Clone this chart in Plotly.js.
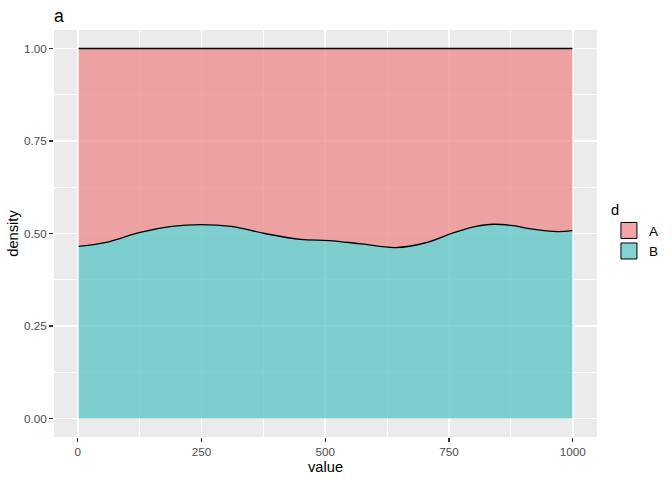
<!DOCTYPE html>
<html>
<head>
<meta charset="utf-8">
<script src="https://cdn.plot.ly/plotly-3.0.1.min.js"></script>
<style>body{margin:0;padding:0;background:#fff}#chart{width:672px;height:480px}</style>
</head>
<body>
<div id="chart"></div>
<script>
// data (position = "fill" densities)
const xs      = [2, 60, 126, 190, 248, 310, 378, 450, 508, 573, 642, 703, 761, 800, 840, 880, 912, 970, 999];
const propB   = [0.465, 0.477, 0.503, 0.519, 0.524, 0.519, 0.500, 0.484, 0.481, 0.472, 0.462, 0.475, 0.503, 0.518, 0.525, 0.521, 0.513, 0.505, 0.508];
const topFill = [1, 1, 1, 1, 1, 1, 1, 1, 1, 1, 1, 1, 1, 1, 1, 1, 1, 1, 1];
const groups  = ["A", "B"];
const xTicks  = [0, 250, 500, 750, 1000];
const yTicks  = [0, 0.25, 0.5, 0.75, 1];
const yTickText = ["0.00", "0.25", "0.50", "0.75", "1.00"];

const fillA = "rgba(238,143,141,0.8)";
const fillB = "rgba(99,198,200,0.8)";

const traces = [
  {x: xs, y: propB, type: "scatter", mode: "lines", fill: "tozeroy",
   fillcolor: fillB, line: {color: "#000", width: 1.3, shape: "spline"},
   showlegend: false, hoverinfo: "skip"},
  {x: xs, y: topFill, type: "scatter", mode: "lines", fill: "tonexty",
   fillcolor: fillA, line: {color: "#000", width: 1.3, shape: "spline"},
   showlegend: false, hoverinfo: "skip"},
  {x: [null], y: [null], type: "scatter", mode: "markers", name: groups[0],
   marker: {symbol: "square", size: 20, color: fillA, line: {color: "#000", width: 1}}},
  {x: [null], y: [null], type: "scatter", mode: "markers", name: groups[1],
   marker: {symbol: "square", size: 20, color: fillB, line: {color: "#000", width: 1}}}
];

const layout = {
  width: 672, height: 480,
  margin: {l: 54, r: 75, t: 30, b: 43, pad: 0, autoexpand: false},
  paper_bgcolor: "#fff",
  plot_bgcolor: "#EBEBEB",
  font: {family: "Liberation Sans, Arial, sans-serif", color: "#000"},
  title: {text: "a", x: 54/672, xanchor: "left", y: 1 - 16/480, yanchor: "middle",
          font: {size: 17.6, color: "#000"}},
  xaxis: {
    range: [-47.85, 1048.85], tickvals: xTicks, ticktext: xTicks.map(String),
    showgrid: true, gridcolor: "#fff", gridwidth: 1.9, zeroline: false,
    ticks: "outside", ticklen: 4, tickwidth: 1.1, tickcolor: "#333",
    tickfont: {size: 11.7, color: "#4D4D4D"},
    minor: {tickvals: [125, 375, 625, 875], showgrid: true, gridcolor: "#fff", gridwidth: 0.95, ticks: ""},
    title: {text: "value", font: {size: 14.7, color: "#000"}, standoff: 4},
    showline: false, automargin: false
  },
  yaxis: {
    range: [-0.05, 1.05], tickvals: yTicks, ticktext: yTickText,
    showgrid: true, gridcolor: "#fff", gridwidth: 1.9, zeroline: false,
    ticks: "outside", ticklen: 4, tickwidth: 1.1, tickcolor: "#333",
    tickfont: {size: 11.7, color: "#4D4D4D"},
    minor: {tickvals: [0.125, 0.375, 0.625, 0.875], showgrid: true, gridcolor: "#fff", gridwidth: 0.95, ticks: ""},
    title: {text: "density", font: {size: 14.7, color: "#000"}, standoff: 1},
    showline: false, automargin: false
  },
  legend: {
    x: 1.022, xanchor: "left", y: 0.592, yanchor: "top",
    traceorder: "normal",
    title: {text: "d", font: {size: 14.7, color: "#000"}},
    font: {size: 13.5, color: "#000"},
    bgcolor: "rgba(0,0,0,0)", itemwidth: 30, tracegroupgap: 0
  },
  showlegend: true
};

Plotly.newPlot("chart", traces, layout, {staticPlot: true, displayModeBar: false});
</script>
</body>
</html>
